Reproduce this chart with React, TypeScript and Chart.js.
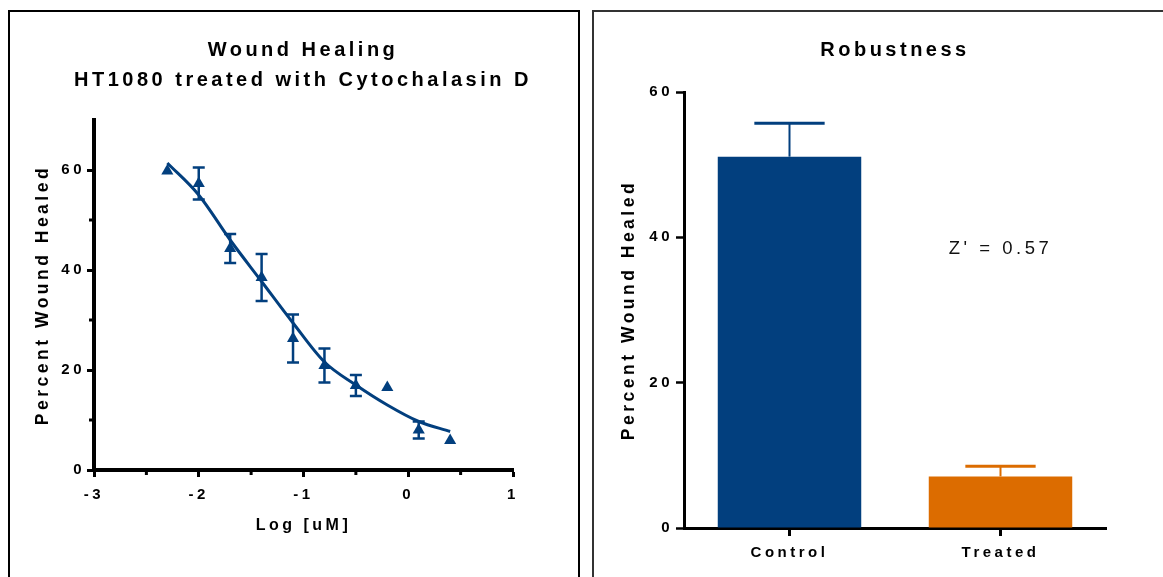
import React, { useEffect, useRef } from 'react';
import { Chart, registerables } from 'chart.js';

Chart.register(...registerables);

const FONT_FAMILY = '"Liberation Sans", Arial, Helvetica, sans-serif';
const BLUE = '#023F7E';
const ORANGE = '#DC6C00';
const INK = '#000000';
const LETTER_SPACING = '3.5px';

// ---- Left panel: wound healing dose response ----
const doseLogConc = [-2.3, -2.0, -1.7, -1.4, -1.1, -0.8, -0.5, -0.2, 0.1, 0.4];
const doseMean = [59.8, 57.3, 44.3, 38.5, 26.3, 20.9, 16.9, 16.5, 8.0, 5.9];
const doseError = [0, 3.2, 2.9, 4.7, 4.8, 3.4, 2.1, 0, 1.7, 0];
const fitLogConc = [-2.3, -2.0, -1.7, -1.4, -1.1, -0.8, -0.5, -0.2, 0.1, 0.4];
const fitPercent = [61.4, 55.0, 46.0, 37.7, 29.4, 21.6, 17.0, 13.0, 9.7, 7.7];
const doseXTicks = [-3, -2, -1, 0, 1];
const doseXMinorTicks = [-2.5, -1.5, -0.5, 0.5];
const doseYTicks = [0, 20, 40, 60];
const doseYMinorTicks = [10, 30, 50];
const doseTitle = ['Wound Healing', 'HT1080 treated with Cytochalasin D'];
const doseXTitle = 'Log [uM]';
const yTitle = 'Percent Wound Healed';

// ---- Right panel: robustness ----
const groupLabels = ['Control', 'Treated'];
const groupMean = [51.1, 7.1];
const groupError = [4.6, 1.4];
const groupColors = [BLUE, ORANGE];
const robustYTicks = [0, 20, 40, 60];
const robustTitle = 'Robustness';
const zPrimeText = "Z' = 0.57";
const zPrimeLevel = 38.4;

const spacingPlugin = {
  id: 'letterSpacing',
  beforeLayout(chart: any) {
    chart.ctx.letterSpacing = LETTER_SPACING;
  },
  beforeDraw(chart: any) {
    chart.ctx.letterSpacing = LETTER_SPACING;
  },
};

const leftExtras = {
  id: 'leftExtras',
  afterDatasetsDraw(chart: any) {
    const { ctx, scales } = chart;
    const x = scales.x;
    const y = scales.y;
    ctx.save();
    ctx.strokeStyle = BLUE;
    ctx.lineWidth = 2.5;
    doseLogConc.forEach((lx, i) => {
      if (!doseError[i]) return;
      const px = x.getPixelForValue(lx);
      const top = y.getPixelForValue(doseMean[i] + doseError[i]);
      const bot = y.getPixelForValue(doseMean[i] - doseError[i]);
      ctx.beginPath();
      ctx.moveTo(px, top);
      ctx.lineTo(px, bot);
      ctx.moveTo(px - 6, top);
      ctx.lineTo(px + 6, top);
      ctx.moveTo(px - 6, bot);
      ctx.lineTo(px + 6, bot);
      ctx.stroke();
    });
    ctx.restore();
  },
  afterDraw(chart: any) {
    const { ctx, chartArea, scales } = chart;
    const x = scales.x;
    const y = scales.y;
    ctx.save();
    ctx.strokeStyle = INK;
    ctx.lineWidth = 3;
    doseXMinorTicks.forEach((v) => {
      const px = x.getPixelForValue(v);
      ctx.beginPath();
      ctx.moveTo(px, chartArea.bottom);
      ctx.lineTo(px, chartArea.bottom + 5);
      ctx.stroke();
    });
    doseYMinorTicks.forEach((v) => {
      const py = y.getPixelForValue(v);
      ctx.beginPath();
      ctx.moveTo(chartArea.left - 5, py);
      ctx.lineTo(chartArea.left, py);
      ctx.stroke();
    });
    ctx.restore();
  },
};

const rightExtras = {
  id: 'rightExtras',
  afterDatasetsDraw(chart: any) {
    const { ctx, scales } = chart;
    const y = scales.y;
    const x = scales.x;
    const meta = chart.getDatasetMeta(0);
    ctx.save();
    meta.data.forEach((bar: any, i: number) => {
      const top = y.getPixelForValue(groupMean[i] + groupError[i]);
      const half = bar.width * 0.245;
      ctx.strokeStyle = groupColors[i];
      ctx.lineWidth = 2;
      ctx.beginPath();
      ctx.moveTo(bar.x, bar.y);
      ctx.lineTo(bar.x, top);
      ctx.stroke();
      ctx.lineWidth = 3;
      ctx.beginPath();
      ctx.moveTo(bar.x - half, top);
      ctx.lineTo(bar.x + half, top);
      ctx.stroke();
    });
    ctx.font = `18.5px ${FONT_FAMILY}`;
    ctx.fillStyle = '#111111';
    ctx.textAlign = 'center';
    ctx.textBaseline = 'middle';
    ctx.fillText(zPrimeText, x.getPixelForValue(1), y.getPixelForValue(zPrimeLevel));
    ctx.restore();
  },
};

const tickFont = { family: FONT_FAMILY, size: 15, weight: 'bold' as const };
const axisTitleFont = { family: FONT_FAMILY, size: 17.5, weight: 'bold' as const };
const chartTitleFont = { family: FONT_FAMILY, size: 20, weight: 'bold' as const, lineHeight: 1.5 };

function leftConfig(): any {
  return {
    type: 'scatter',
    data: {
      datasets: [
        {
          label: 'Mean',
          data: doseLogConc.map((x, i) => ({ x, y: doseMean[i] })),
          pointStyle: 'triangle',
          pointRadius: 7,
          pointHoverRadius: 7,
          backgroundColor: BLUE,
          borderColor: BLUE,
          borderWidth: 0,
          showLine: false,
        },
        {
          label: 'Fit',
          data: fitLogConc.map((x, i) => ({ x, y: fitPercent[i] })),
          showLine: true,
          pointRadius: 0,
          pointHoverRadius: 0,
          borderColor: BLUE,
          borderWidth: 3,
          cubicInterpolationMode: 'monotone',
          fill: false,
        },
      ],
    },
    options: {
      animation: false,
      responsive: false,
      events: [],
      layout: { padding: 0 },
      plugins: {
        legend: { display: false },
        tooltip: { enabled: false },
        title: {
          display: true,
          text: doseTitle,
          color: INK,
          font: chartTitleFont,
          padding: { top: 23, bottom: 25 },
        },
      },
      scales: {
        x: {
          type: 'linear',
          min: -3,
          max: 1,
          afterBuildTicks: (s: any) => {
            s.ticks = doseXTicks.map((v) => ({ value: v }));
          },
          afterFit: (s: any) => {
            s.height = 107;
          },
          border: { display: true, color: INK, width: 4 },
          grid: { display: true, drawOnChartArea: false, drawTicks: true, tickLength: 7, tickWidth: 3, tickColor: INK },
          ticks: { color: INK, font: tickFont, padding: 9, maxRotation: 0 },
          title: {
            display: true,
            text: doseXTitle,
            color: INK,
            font: { family: FONT_FAMILY, size: 16, weight: 'bold' },
            padding: { top: 0, bottom: 42 },
          },
        },
        y: {
          type: 'linear',
          min: 0,
          max: 70,
          afterBuildTicks: (s: any) => {
            s.ticks = doseYTicks.map((v) => ({ value: v }));
          },
          afterFit: (s: any) => {
            s.width = 84;
          },
          border: { display: true, color: INK, width: 4 },
          grid: { display: true, drawOnChartArea: false, drawTicks: true, tickLength: 7, tickWidth: 3, tickColor: INK },
          ticks: { color: INK, font: tickFont, padding: 2 },
          title: {
            display: true,
            text: yTitle,
            color: INK,
            font: axisTitleFont,
            padding: { top: 23, bottom: 0 },
          },
        },
        y2: {
          type: 'linear',
          position: 'right',
          display: true,
          afterFit: (s: any) => {
            s.width = 83;
          },
          grid: { display: false },
          border: { display: false },
          ticks: { display: false },
        },
      },
    },
    plugins: [spacingPlugin, leftExtras],
  };
}

function rightConfig(): any {
  return {
    type: 'bar',
    data: {
      labels: groupLabels,
      datasets: [
        {
          label: 'Percent Wound Healed',
          data: groupMean,
          backgroundColor: groupColors,
          borderWidth: 0,
          barPercentage: 0.68,
          categoryPercentage: 1,
        },
      ],
    },
    options: {
      animation: false,
      responsive: false,
      events: [],
      layout: { padding: 0 },
      plugins: {
        legend: { display: false },
        tooltip: { enabled: false },
        title: {
          display: true,
          text: robustTitle,
          color: INK,
          font: chartTitleFont,
          padding: { top: 23, bottom: 27 },
        },
      },
      scales: {
        x: {
          type: 'category',
          afterFit: (s: any) => {
            s.height = 49;
          },
          border: { display: true, color: INK, width: 3 },
          grid: { display: true, offset: false, drawOnChartArea: false, drawTicks: true, tickLength: 8, tickWidth: 3, tickColor: INK },
          ticks: { color: INK, font: tickFont, padding: 8, maxRotation: 0 },
        },
        y: {
          type: 'linear',
          min: 0,
          max: 60,
          afterBuildTicks: (s: any) => {
            s.ticks = robustYTicks.map((v) => ({ value: v }));
          },
          afterFit: (s: any) => {
            s.width = 89;
          },
          border: { display: true, color: INK, width: 3 },
          grid: { display: true, drawOnChartArea: false, drawTicks: true, tickLength: 8, tickWidth: 2.5, tickColor: INK },
          ticks: { color: INK, font: tickFont, padding: 3 },
          title: {
            display: true,
            text: yTitle,
            color: INK,
            font: axisTitleFont,
            padding: { top: 24, bottom: 0 },
          },
        },
        y2: {
          type: 'linear',
          position: 'right',
          display: true,
          afterFit: (s: any) => {
            s.width = 89;
          },
          grid: { display: false },
          border: { display: false },
          ticks: { display: false },
        },
      },
    },
    plugins: [spacingPlugin, rightExtras],
  };
}

export default function App() {
  const leftRef = useRef<HTMLCanvasElement>(null);
  const rightRef = useRef<HTMLCanvasElement>(null);

  useEffect(() => {
    const left = new Chart(leftRef.current as HTMLCanvasElement, leftConfig());
    const right = new Chart(rightRef.current as HTMLCanvasElement, rightConfig());
    return () => {
      left.destroy();
      right.destroy();
    };
  }, []);

  return (
    <div
      style={{
        position: 'absolute',
        left: 0,
        top: 0,
        width: 1163,
        height: 577,
        overflow: 'hidden',
        background: '#ffffff',
      }}
    >
      <div
        style={{
          position: 'absolute',
          left: 8,
          top: 10,
          width: 568,
          height: 640,
          borderTop: '2px solid #000',
          borderLeft: '2px solid #000',
          borderRight: '2px solid #000',
        }}
      />
      <div
        style={{
          position: 'absolute',
          left: 592,
          top: 10,
          width: 640,
          height: 640,
          borderTop: '2px solid #333',
          borderLeft: '2px solid #333',
        }}
      />
      <canvas
        ref={leftRef}
        width={586}
        height={565}
        style={{ position: 'absolute', left: 10, top: 12, width: 586, height: 565 }}
      />
      <canvas
        ref={rightRef}
        width={600}
        height={565}
        style={{ position: 'absolute', left: 595, top: 12, width: 600, height: 565 }}
      />
    </div>
  );
}
